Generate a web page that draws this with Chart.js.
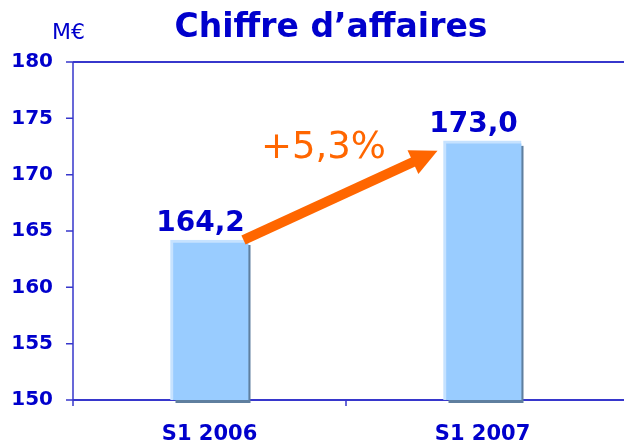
<!DOCTYPE html>
<html>
<head>
<meta charset="utf-8">
<script src="https://cdn.jsdelivr.net/npm/chart.js@4"></script>
<style>
  body { margin: 0; background: #fff; }
  #wrap { position: relative; width: 624px; height: 443px; }
  #title { position: absolute; left: 331px; top: 9px; transform: translateX(-50%); white-space: nowrap;
           font: bold 33px/33px "DejaVu Sans"; color: #0000cc; }
  #unit { position: absolute; left: 52px; top: 21px; font: 22px/22px "DejaVu Sans"; color: #0000cc; }
</style>
</head>
<body>
<div id="wrap">
  <canvas id="chart" width="624" height="443"></canvas>
  <div id="title">Chiffre d’affaires</div>
  <div id="unit">M€</div>
</div>
<script>
const categories = ['S1 2006', 'S1 2007'];
const revenue = [164.2, 173.0];
const growthLabel = '+5,3%';
const yMin = 150, yMax = 180, yStep = 5;

const blue = '#0000cc';
const axisBlue = '#3737cc';
const orange = '#ff6600';

// frame: top/bottom lines across, left axis, tick marks, bar shadows
const framePlugin = {
    id: 'frame',
    beforeDatasetsDraw(chart) {
        const ctx = chart.ctx, y = chart.scales.y, x = chart.scales.x;
        const left = chart.chartArea.left, right = chart.width;
        const bottom = y.getPixelForValue(yMin);
        ctx.save();
        ctx.strokeStyle = axisBlue;
        ctx.lineWidth = 2;
        ctx.beginPath();
        ctx.moveTo(left, y.getPixelForValue(yMax)); ctx.lineTo(right, y.getPixelForValue(yMax));
        ctx.moveTo(left, bottom); ctx.lineTo(right, bottom);
        ctx.stroke();
        ctx.lineWidth = 1.5;
        ctx.beginPath();
        ctx.moveTo(left, y.getPixelForValue(yMax));
        ctx.lineTo(left, bottom + 6);
        y.ticks.forEach(t => {
            const py = y.getPixelForValue(t.value);
            ctx.moveTo(left - 7, py); ctx.lineTo(left, py);
        });
        const mid = (x.getPixelForValue(0) + x.getPixelForValue(1)) / 2;
        ctx.moveTo(mid, bottom); ctx.lineTo(mid, bottom + 6);
        ctx.stroke();

        // drop shadow behind each bar
        ctx.fillStyle = '#5f7f9f';
        chart.getDatasetMeta(0).data.forEach(b => {
            ctx.fillRect(b.x - b.width / 2 + 5, b.y + 5, b.width - 3, bottom + 3 - (b.y + 5));
        });
        ctx.restore();
    },
    afterDatasetsDraw(chart) {
        const ctx = chart.ctx;
        const bars = chart.getDatasetMeta(0).data;
        ctx.save();
        // value labels
        ctx.font = 'bold 28px "DejaVu Sans"';
        ctx.fillStyle = blue;
        ctx.textAlign = 'center';
        ctx.textBaseline = 'alphabetic';
        bars.forEach((b, i) => {
            ctx.fillText(revenue[i].toFixed(1).replace('.', ','), b.x - 9, b.y - 9);
        });
        // growth arrow
        const a = bars[0], c = bars[1];
        const x0 = a.x + a.width / 2 - 5, y0 = a.y;
        const x1 = c.x - c.width / 2 - 6, y1 = c.y + 10;
        const ang = Math.atan2(y1 - y0, x1 - x0);
        const headLen = 27, headHalf = 13;
        const bx = x1 - headLen * Math.cos(ang), by = y1 - headLen * Math.sin(ang);
        ctx.strokeStyle = orange;
        ctx.fillStyle = orange;
        ctx.lineWidth = 10;
        ctx.beginPath();
        ctx.moveTo(x0, y0);
        ctx.lineTo(bx + 2 * Math.cos(ang), by + 2 * Math.sin(ang));
        ctx.stroke();
        ctx.beginPath();
        ctx.moveTo(x1, y1);
        ctx.lineTo(bx + headHalf * Math.sin(ang), by - headHalf * Math.cos(ang));
        ctx.lineTo(bx - headHalf * Math.sin(ang), by + headHalf * Math.cos(ang));
        ctx.closePath();
        ctx.fill();
        // growth label
        ctx.font = '37px "DejaVu Sans"';
        ctx.textAlign = 'left';
        ctx.fillText(growthLabel, 261, 158);
        ctx.restore();
    }
};

new Chart(document.getElementById('chart'), {
    type: 'bar',
    data: {
        labels: categories,
        datasets: [{
            data: revenue,
            backgroundColor: '#99ccff',
            borderColor: '#c6e2ff',
            borderWidth: { top: 3, left: 3, right: 0, bottom: 0 },
            borderSkipped: false,
            barThickness: 78
        }]
    },
    options: {
        responsive: false,
        animation: false,
        layout: { padding: { top: 62, right: 5, left: 0, bottom: 0 } },
        plugins: { legend: { display: false }, title: { display: false }, tooltip: { enabled: false } },
        scales: {
            x: {
                grid: { display: false, drawTicks: false },
                border: { display: false },
                ticks: { color: blue, font: { family: 'DejaVu Sans', weight: 'bold', size: 21 }, padding: 22 },
                afterFit(s) { s.height = 43; }
            },
            y: {
                min: yMin, max: yMax,
                grid: { display: false, drawTicks: false },
                border: { display: false },
                ticks: { stepSize: yStep, color: blue, font: { family: 'DejaVu Sans', weight: 'bold', size: 20 }, padding: 20 },
                afterFit(s) { s.width = 73; }
            }
        }
    },
    plugins: [framePlugin]
});
</script>
</body>
</html>
